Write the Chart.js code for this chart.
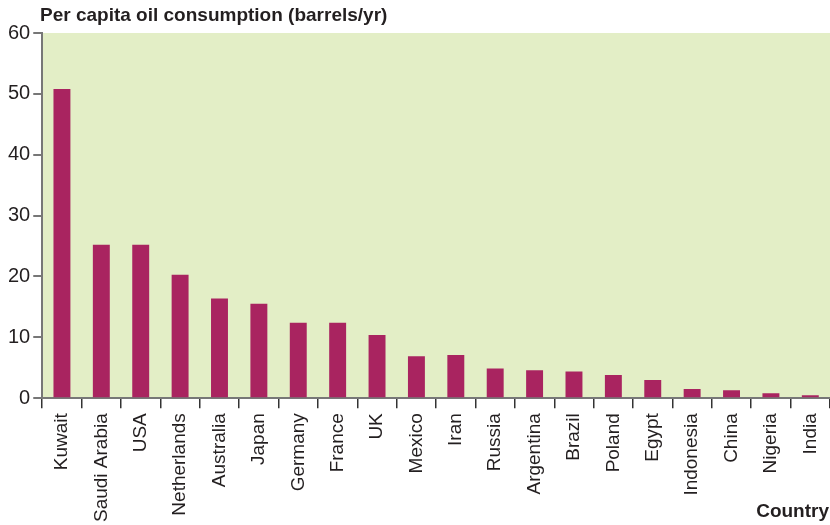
<!DOCTYPE html>
<html>
<head>
<meta charset="utf-8">
<script src="https://cdn.jsdelivr.net/npm/chart.js@4/dist/chart.umd.min.js"></script>
<style>
  html, body { margin: 0; padding: 0; background: #fff; }
  #wrap { width: 830px; height: 525px; position: relative; }
</style>
</head>
<body>
<div id="wrap"><canvas id="chart"></canvas></div>
<script>
// Oil consumption per capita, barrels per year
const countries = ['Kuwait', 'Saudi Arabia', 'USA', 'Netherlands', 'Australia', 'Japan', 'Germany',
  'France', 'UK', 'Mexico', 'Iran', 'Russia', 'Argentina', 'Brazil', 'Poland', 'Egypt',
  'Indonesia', 'China', 'Nigeria', 'India'];
const barrels = [50.8, 25.2, 25.2, 20.3, 16.4, 15.5, 12.4, 12.4, 10.4, 6.9, 7.1, 4.9, 4.6, 4.4,
  3.8, 3.0, 1.5, 1.3, 0.8, 0.5];
const yTicks = [0, 10, 20, 30, 40, 50, 60];

const TEXT = '#231f20';
const FONT = 'Liberation Sans, Arial, sans-serif';

// plot background + the two bold captions
const decor = {
  id: 'decor',
  beforeDraw(chart) {
    const { ctx, chartArea: a } = chart;
    ctx.save();
    ctx.fillStyle = '#e3eec6';
    ctx.fillRect(a.left, a.top, a.right - a.left, a.bottom - a.top);
    ctx.restore();
  },
  afterDraw(chart) {
    const { ctx } = chart;
    ctx.save();
    ctx.fillStyle = TEXT;
    ctx.font = 'bold 19px ' + FONT;
    ctx.textBaseline = 'alphabetic';
    ctx.textAlign = 'left';
    ctx.fillText('Per capita oil consumption (barrels/yr)', 40, 21);
    ctx.textAlign = 'right';
    ctx.fillText('Country', 829, 517);
    ctx.restore();
  }
};

new Chart(document.getElementById('chart'), {
  type: 'bar',
  data: {
    labels: countries,
    datasets: [{
      data: barrels,
      backgroundColor: '#a92460',
      barPercentage: 0.43,
      categoryPercentage: 1.0,
    }],
  },
  options: {
    responsive: true,
    maintainAspectRatio: false,
    animation: false,
    layout: { padding: { top: 33, right: -3, left: 5, bottom: -2 } },
    plugins: { legend: { display: false }, tooltip: { enabled: false } },
    scales: {
      x: {
        // let the plot run to the right edge, labels can overhang
        afterFit(scale) { scale.paddingRight = 0; scale.paddingLeft = 0; },
        grid: { display: true, drawOnChartArea: false, offset: true, tickLength: 10, color: '#333', lineWidth: 1.5 },
        border: { display: true, color: '#777', width: 2 },
        ticks: {
          color: TEXT,
          font: { family: FONT, size: 19 },
          minRotation: 90,
          maxRotation: 90,
          autoSkip: false,
          padding: 5,
        },
      },
      y: {
        min: 0,
        max: 60,
        afterBuildTicks(axis) { axis.ticks = yTicks.map((v) => ({ value: v })); },
        grid: { display: true, drawOnChartArea: false, tickLength: 9, color: '#777', lineWidth: 2 },
        border: { display: true, color: '#777', width: 2 },
        ticks: {
          color: TEXT,
          font: { family: FONT, size: 20 },
          padding: 3,
        },
      },
    },
  },
  plugins: [decor],
});
</script>
</body>
</html>
